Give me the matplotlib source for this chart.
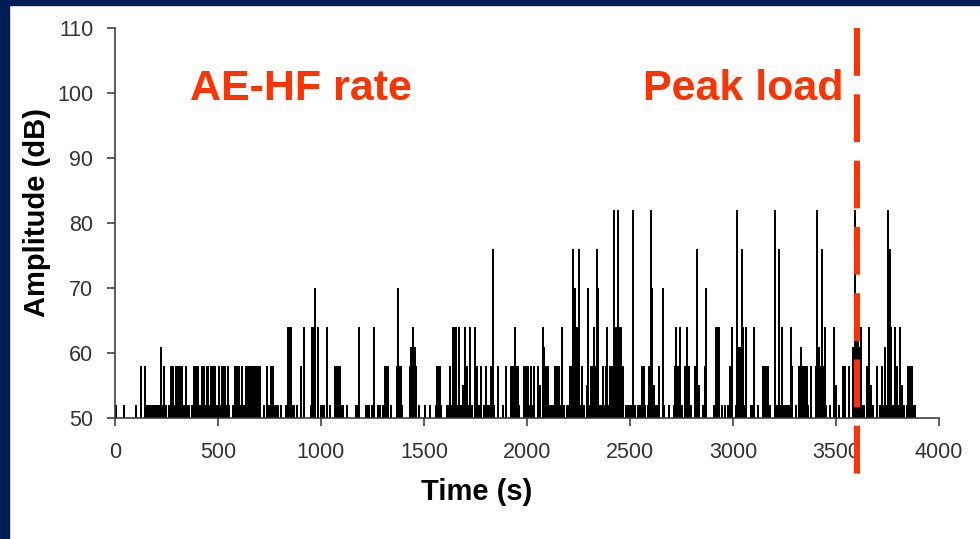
import matplotlib.pyplot as plt
from matplotlib.patches import Rectangle

plt.rcParams['font.family'] = ['Liberation Sans', 'DejaVu Sans']

# AE-HF hits, grouped by peak amplitude (dB); values are hit times in seconds
hits_52 = [5, 45, 102,
           150, 160, 170, 180, 190, 200, 210, 220, 230, 240, 250, 260, 270, 280,
           290, 300, 310, 320, 330, 340, 350, 360,
           375, 385, 395, 405, 415, 425, 435, 445, 455, 465, 475, 485, 495, 505, 515,
           527, 535, 545, 555, 571, 580, 590, 600, 610, 620, 630, 640, 650, 660,
           670, 680, 690, 700, 723, 736, 745, 755, 765, 775, 781, 793, 804,
           830, 840, 850, 858, 869, 885, 950, 958, 966, 1001, 1008, 1014, 1044,
           1068, 1078, 1088, 1098, 1108, 1128, 1170, 1178, 1186, 1218, 1226, 1234,
           1247, 1257, 1278, 1288, 1299, 1311, 1320, 1327, 1338, 1370, 1380, 1393,
           1430, 1440, 1450, 1463, 1474, 1503, 1531, 1560, 1570, 1584,
           1613, 1623, 1633, 1643, 1653, 1663, 1673, 1685, 1695, 1705, 1715, 1725,
           1735, 1746, 1759, 1769, 1779, 1789, 1799, 1811, 1820, 1830, 1840, 1883,
           1920, 1930, 1940, 1950, 1960, 1985, 1995, 2005, 2015, 2025, 2036,
           2108, 2118, 2128, 2138, 2148, 2158, 2168, 2181, 2193, 2203, 2214,
           2238, 2248, 2258, 2268, 2278, 2290, 2300, 2310, 2320, 2330, 2340, 2350,
           2359, 2367, 2377, 2387, 2397, 2407, 2417, 2427, 2437, 2447, 2457, 2467,
           2480, 2490, 2497, 2505, 2515, 2525, 2537, 2545, 2555, 2565, 2575, 2585,
           2595, 2605, 2615, 2625, 2635, 2667, 2689, 2713, 2723, 2733, 2743, 2754,
           2765, 2775, 2785, 2794, 2815, 2825, 2835, 2856, 2908, 2918, 2928, 2945,
           2960, 2975, 2985, 2997, 3013, 3023, 3033, 3043, 3053, 3061, 3086, 3094,
           3102, 3121, 3180, 3202, 3212, 3222, 3232, 3242, 3251, 3260, 3270, 3277,
           3304, 3335, 3345, 3355, 3365, 3380, 3403, 3413, 3423, 3433, 3443, 3451,
           3473, 3489, 3499, 3513, 3532, 3545, 3581, 3591, 3601, 3610, 3618, 3628,
           3638, 3648, 3658, 3668, 3678, 3715, 3725, 3735, 3745, 3755, 3765, 3775,
           3785, 3795, 3805, 3815, 3828, 3845, 3855, 3865, 3875, 3885]
hits_55 = [1689, 1695, 1701, 2063, 2290, 2618, 2835, 3500, 3671, 3820]
hits_58 = [126, 144, 238, 270, 276, 282, 298, 305, 311, 317, 327, 345, 382, 389,
           396, 403, 424, 431, 446, 453, 468, 475, 481, 487, 506, 519, 527, 535,
           548, 581, 588, 595, 600, 617, 636, 643, 650, 657, 665,
           670, 677, 684, 691, 698, 704, 739, 756, 762, 769, 901,
           1068, 1074, 1080, 1084, 1092, 1311, 1318, 1325,
           1370, 1378, 1387, 1430, 1463, 1565, 1571, 1576, 1625, 1709, 1759, 1778,
           1799, 1827, 1859, 1900, 1924, 1932, 1950, 1956, 1985, 1992, 2000, 2005,
           2019, 2036, 2055, 2090, 2100, 2137, 2145, 2150, 2157, 2209, 2214, 2267,
           2311, 2318, 2330, 2335, 2370, 2383, 2403, 2412, 2467, 2558, 2564, 2570,
           2590, 2642, 2717, 2722, 2733, 2765, 2770, 2778, 2786, 2815, 2820, 2827,
           2862, 2985, 2990, 3145, 3150, 3158, 3171, 3288, 3320,
           3335, 3343, 3351, 3359, 3380, 3403, 3420, 3440, 3532, 3538, 3545, 3565,
           3650, 3699, 3723, 3796, 3850, 3856, 3863, 3869]
hits_61 = [222, 1435, 1441, 1447, 1453, 1458, 2084, 3025, 3032, 3040, 3328, 3416,
           3581, 3587, 3595, 3603, 3610, 3740]
hits_64 = [838, 845, 853, 917, 958, 963, 985, 1029, 1186, 1256, 1447, 1641, 1649,
           1657, 1668, 1701, 1725, 1749, 1943, 2079, 2170, 2241, 2248, 2325, 2390,
           2430, 2435, 2445, 2450, 2456, 2725, 2743, 2775, 2916, 2924, 2932, 2995,
           3050, 3065, 3102, 3239, 3280, 3448, 3492, 3600, 3605, 3623, 3662, 3769,
           3785, 3812]
hits_70 = [969, 1372, 2225, 2230, 2235, 2298, 2345, 2608, 2659, 2869]
hits_76 = [1836, 2222, 2254, 2341, 2824, 3045, 3222, 3432, 3760]
hits_82 = [2424, 2440, 2516, 2602, 3021, 3205, 3408, 3592, 3752]

amplitude_hits = {52: hits_52, 55: hits_55, 58: hits_58, 61: hits_61,
                  64: hits_64, 70: hits_70, 76: hits_76, 82: hits_82}
peak_load_time = 3600

x_ticks = [0, 500, 1000, 1500, 2000, 2500, 3000, 3500, 4000]
y_ticks = [50, 60, 70, 80, 90, 100, 110]

accent = '#ff3300'
navy = '#021d55'

fig = plt.figure(figsize=(9.8, 5.39), dpi=100)
fig.patch.set_facecolor('white')
# slide frame strips along the top and left edges
fig.patches.append(Rectangle((0, 1 - 5 / 539), 1, 5 / 539, transform=fig.transFigure,
                             color=navy, zorder=0))
fig.patches.append(Rectangle((0, 0), 9 / 980, 1, transform=fig.transFigure,
                             color=navy, zorder=0))

ax = fig.add_axes([0.1173, 0.2245, 0.8409, 0.7235])

for level, times in amplitude_hits.items():
    ax.vlines(times, 50, level, color='black', linewidth=1.45)

# peak load marker, runs down past the time axis
ax.plot([peak_load_time, peak_load_time], [1.0, -0.151],
        transform=ax.get_xaxis_transform(), color=accent, linewidth=4.3,
        dashes=(8.0, 3.1), clip_on=False, zorder=5)

ax.text(364, 98.9, 'AE-HF rate', color=accent, fontsize=31, fontweight='bold',
        va='baseline', ha='left')
ax.text(2563, 98.9, 'Peak load', color=accent, fontsize=31, fontweight='bold',
        va='baseline', ha='left')

ax.set_xlim(0, 4000)
ax.set_ylim(50, 110)
ax.set_xticks(x_ticks)
ax.set_yticks(y_ticks)

for side in ['top', 'right']:
    ax.spines[side].set_visible(False)
for side in ['left', 'bottom']:
    ax.spines[side].set_color('#333333')
    ax.spines[side].set_linewidth(1.1)

ax.tick_params(direction='out', length=5.5, width=1.1, color='#333333',
               labelcolor='#333333', labelsize=15.5)
ax.tick_params(axis='x', pad=12)
ax.tick_params(axis='y', pad=10)

ax.set_xlabel('Time (s)', fontsize=21, fontweight='bold')
ax.set_ylabel('Amplitude (dB)', fontsize=21, fontweight='bold')
ax.xaxis.set_label_coords(0.439, -0.154)
ax.yaxis.set_label_coords(-0.077, 0.526)

fig.savefig('out.png', dpi=100)
